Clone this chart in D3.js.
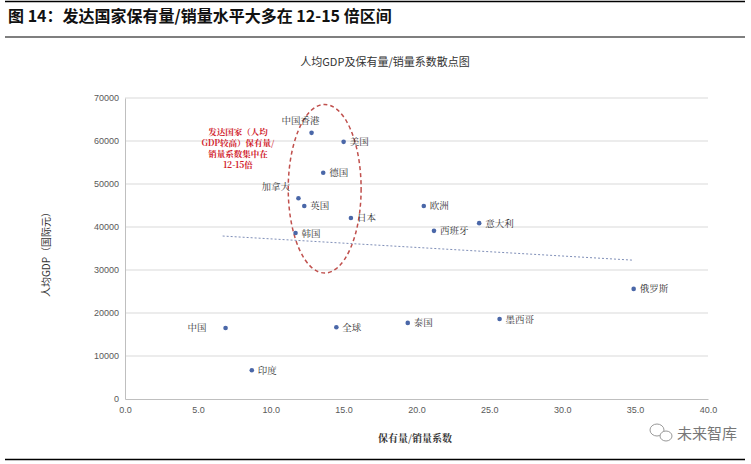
<!DOCTYPE html>
<html><head><meta charset="utf-8">
<script src="https://cdn.jsdelivr.net/npm/d3@7"></script>
<style>
body{margin:0;background:#fff;}
svg{display:block;}
</style></head>
<body>
<svg id="c" width="751" height="464"></svg>
<script>
// ---- data ----
const countries = ["中国香港","美国","德国","加拿大","英国","日本","韩国","欧洲","西班牙","意大利","俄罗斯","中国","全球","泰国","墨西哥","印度"];
const ratio     = [12.8, 15.0, 13.6, 11.9, 12.3, 15.5, 11.7, 20.5, 21.2, 24.3, 34.9, 6.9, 14.5, 19.4, 25.7, 8.7];
const gdp       = [61900, 59800, 52600, 46700, 44900, 42100, 38600, 44900, 39100, 40900, 25600, 16500, 16700, 17700, 18600, 6700];
const trendX    = [6.7, 34.8];
const trendY    = [37900, 32300];
const xTicks    = [0,5,10,15,20,25,30,35,40];
const yTicks    = [0,10000,20000,30000,40000,50000,60000,70000];
const ellipseBox = {x0:11.2, x1:16.2, y0:29300, y1:68500};
const noteLines = ["发达国家（人均","GDP较高）保有量/","销量系数集中在","12-15倍"];

const svg = d3.select("#c");
const font = "'Noto Sans CJK SC','Liberation Sans',sans-serif";
const serif = "'Noto Serif CJK SC','Noto Sans CJK SC',serif";

// header
svg.append("line").attr("x1",5).attr("x2",745).attr("y1",1.5).attr("y2",1.5).attr("stroke","#000").attr("stroke-width",1.5);
svg.append("text").attr("x",8).attr("y",22).attr("font-family",font).attr("font-weight","bold").attr("font-size",16).attr("fill","#111")
  .text("图 14：发达国家保有量/销量水平大多在 12-15 倍区间");
svg.append("line").attr("x1",5).attr("x2",745).attr("y1",37).attr("y2",37).attr("stroke","#000").attr("stroke-width",1.2);
svg.append("line").attr("x1",5).attr("x2",745).attr("y1",459.5).attr("y2",459.5).attr("stroke","#000").attr("stroke-width",1.5);

// chart title
svg.append("text").attr("x",385).attr("y",66).attr("text-anchor","middle").attr("font-family",font).attr("font-size",11).attr("fill","#333")
  .text("人均GDP及保有量/销量系数散点图");

const x = d3.scaleLinear().domain([0,40]).range([125,708]);
const y = d3.scaleLinear().domain([0,70000]).range([399,98]);

// gridlines
svg.append("g").selectAll("line").data(yTicks.filter(d=>d>0)).join("line")
  .attr("x1",x(0)).attr("x2",x(40)).attr("y1",d=>y(d)).attr("y2",d=>y(d))
  .attr("stroke","#d9d9d9").attr("stroke-width",1);

// axes
const gx = svg.append("g").attr("transform",`translate(0,${y(0)})`)
  .call(d3.axisBottom(x).tickValues(xTicks).tickFormat(d3.format(".1f")).tickSize(0).tickPadding(8));
gx.select(".domain").attr("stroke","#bfbfbf");
gx.selectAll("text").attr("font-family","'Liberation Sans',sans-serif").attr("font-size",9).attr("fill","#595959");
const gy = svg.append("g").attr("transform",`translate(${x(0)},0)`)
  .call(d3.axisLeft(y).tickValues(yTicks).tickFormat(d3.format("d")).tickSize(0).tickPadding(6));
gy.select(".domain").attr("stroke","#bfbfbf");
gy.selectAll("text").attr("font-family","'Liberation Sans',sans-serif").attr("font-size",9).attr("fill","#595959");

// axis titles
svg.append("text").attr("transform","translate(50,252) rotate(-90)").attr("text-anchor","middle")
  .attr("font-family",font).attr("font-size",10).attr("fill","#333").text("人均GDP（国际元）");
svg.append("text").attr("x",415).attr("y",442).attr("text-anchor","middle")
  .attr("font-family",serif).attr("font-size",10).attr("font-weight","bold").attr("fill","#333").text("保有量/销量系数");

// trendline
svg.append("line").attr("x1",x(trendX[0])).attr("x2",x(trendX[1])).attr("y1",y(trendY[0])).attr("y2",y(trendY[1]))
  .attr("stroke","#7f8fb8").attr("stroke-width",1).attr("stroke-dasharray","2,2");

// ellipse
const ecx = (x(ellipseBox.x0)+x(ellipseBox.x1))/2, ecy=(y(ellipseBox.y0)+y(ellipseBox.y1))/2;
svg.append("ellipse").attr("cx",ecx).attr("cy",ecy)
  .attr("rx",(x(ellipseBox.x1)-x(ellipseBox.x0))/2).attr("ry",(y(ellipseBox.y0)-y(ellipseBox.y1))/2)
  .attr("fill","none").attr("stroke","#c0504d").attr("stroke-width",1.5).attr("stroke-dasharray","4,3");

// note
svg.append("g").selectAll("text").data(noteLines).join("text")
  .attr("x",238).attr("y",(d,i)=>135+i*11).attr("text-anchor","middle")
  .attr("font-family",serif).attr("font-weight","bold").attr("font-size",8.5).attr("fill","#d0202a").text(d=>d);

// points
const pts = countries.map((c,i)=>({c, r:ratio[i], g:gdp[i]}));
svg.append("g").selectAll("circle").data(pts).join("circle")
  .attr("cx",d=>x(d.r)).attr("cy",d=>y(d.g)).attr("r",2.3).attr("fill","#4a67a8");

const special = {"中国香港":{dx:-30,dy:-9,a:"start"},"加拿大":{dx:-37,dy:-8,a:"start"},"中国":{dx:-38,dy:3,a:"start"}};
svg.append("g").selectAll("text").data(pts).join("text")
  .attr("x",d=>x(d.r)+(special[d.c]?special[d.c].dx:6))
  .attr("y",d=>y(d.g)+(special[d.c]?special[d.c].dy:3.5))
  .attr("text-anchor",d=>special[d.c]?special[d.c].a:"start")
  .attr("font-family",serif).attr("font-size",9.5).attr("fill","#333").text(d=>d.c);

// watermark
const wm = svg.append("g").attr("fill","none").attr("stroke","#999").attr("stroke-width",1);
wm.append("ellipse").attr("cx",657).attr("cy",430).attr("rx",7).attr("ry",6);
wm.append("ellipse").attr("cx",666).attr("cy",436).attr("rx",6).attr("ry",5).attr("fill","#fff");
svg.append("text").attr("x",677).attr("y",439).attr("font-family",font).attr("font-size",15).attr("fill","#777").text("未来智库");
</script>
</body></html>
